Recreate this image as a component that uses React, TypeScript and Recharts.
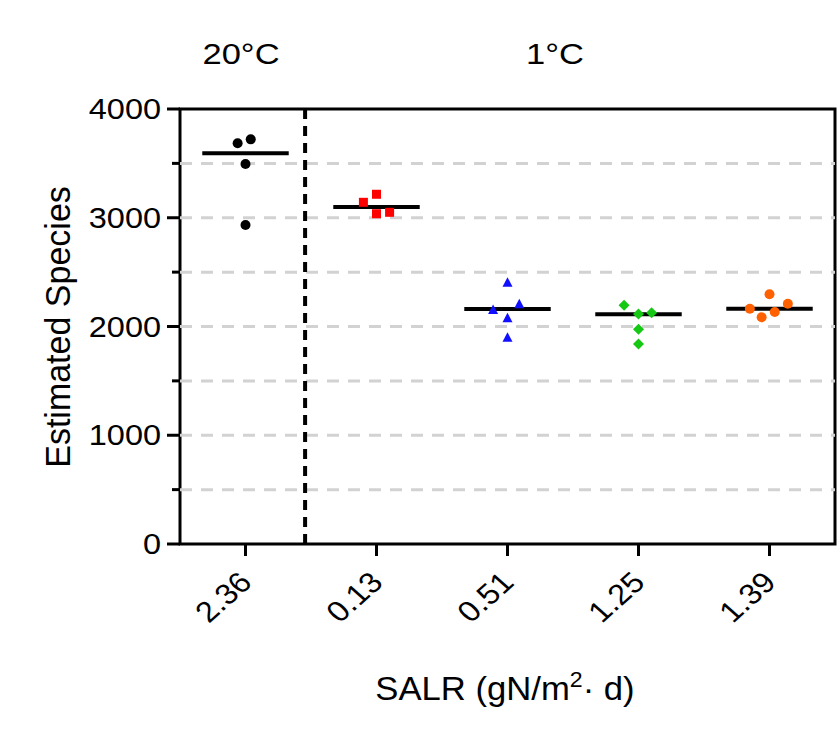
import { ReferenceArea, ReferenceLine, Scatter, ScatterChart, XAxis, YAxis } from 'recharts';

const categories = ['2.36', '0.13', '0.51', '1.25', '1.39'];
const yTicks = [0, 500, 1000, 1500, 2000, 2500, 3000, 3500, 4000];
const gridValues = [500, 1000, 1500, 2000, 2500, 3000, 3500];

// measured values per SALR group (first one at 20°C, rest at 1°C)
const warm236 = [3685, 3721, 3494, 2933];
const cold013 = [3142, 3216, 3037, 3050];
const cold051 = [2403, 2152, 2204, 2075, 1897];
const cold125 = [2195, 2115, 2127, 1974, 1839];
const cold139 = [2296, 2164, 2210, 2133, 2085];

// horizontal scatter offsets
const jit236 = [-0.06, 0.04, 0, 0];
const jit013 = [-0.1, 0, 0, 0.1];
const jit051 = [0, -0.11, 0.09, 0, 0];
const jit125 = [-0.11, 0, 0.1, 0, 0];
const jit139 = [0, -0.15, 0.14, 0.04, -0.06];

const medians = [3592, 3099, 2161, 2112, 2164];

const FONT = '"Liberation Sans", Arial, sans-serif';

const toPoints = (vals: number[], jit: number[], pos: number) =>
    vals.map((y, i) => ({ x: pos + jit[i], y }));

const dot = (color: string) => (p: any) => <circle cx={p.cx} cy={p.cy} r={5} fill={color} />;
const square = (p: any) => <rect x={p.cx - 4.5} y={p.cy - 4.5} width={9} height={9} fill="#ff0000" />;
const triangle = (p: any) => (
    <polygon points={`${p.cx},${p.cy - 5.5} ${p.cx + 5},${p.cy + 4} ${p.cx - 5},${p.cy + 4}`} fill="#1010ff" />
);
const diamond = (p: any) => (
    <polygon points={`${p.cx},${p.cy - 5.5} ${p.cx + 5.5},${p.cy} ${p.cx},${p.cy + 5.5} ${p.cx - 5.5},${p.cy}`} fill="#14c814" />
);

function YTick({ x, y, payload }: any) {
    const major = payload.value % 1000 === 0;
    return (
        <g>
            <line x1={x - (major ? 13 : 8)} x2={x} y1={y} y2={y} stroke="#000" strokeWidth={3} />
            {major && (
                <text transform={`translate(${x - 19},${y + 10}) scale(1.12,1)`} textAnchor="end" fontSize={29} fontFamily={FONT} fill="#000">
                    {payload.value}
                </text>
            )}
        </g>
    );
}

function XTick({ x, y, payload }: any) {
    return (
        <g>
            <line x1={x} x2={x} y1={y} y2={y + 12} stroke="#000" strokeWidth={3} />
            <text transform={`translate(${x + 8},${y + 40}) scale(1.12,1) rotate(-45)`} textAnchor="end" fontSize={29} fontFamily={FONT} fill="#000">
                {categories[payload.value - 1]}
            </text>
        </g>
    );
}

export default function App() {
    return (
        <div style={{ position: 'absolute', left: 0, top: 0, width: 839, height: 735, overflow: 'hidden', background: '#fff' }}>
            <ScatterChart width={839} height={735} margin={{ top: 109, right: 4, bottom: 91, left: 80 }}>
                <XAxis
                    type="number"
                    dataKey="x"
                    domain={[0.5, 5.5]}
                    ticks={[1, 2, 3, 4, 5]}
                    interval={0}
                    height={100}
                    axisLine={false}
                    tickLine={false}
                    tickSize={0}
                    tickMargin={0}
                    tick={<XTick />}
                />
                <YAxis
                    type="number"
                    dataKey="y"
                    domain={[0, 4000]}
                    ticks={yTicks}
                    interval={0}
                    width={100}
                    axisLine={false}
                    tickLine={false}
                    tickSize={0}
                    tickMargin={0}
                    tick={<YTick />}
                />
                {gridValues.map((v) => (
                    <ReferenceLine key={v} y={v} stroke="#d2d2d2" strokeWidth={3} strokeDasharray="12 9" />
                ))}
                <Scatter data={toPoints(warm236, jit236, 1)} shape={dot('#000')} isAnimationActive={false} />
                <Scatter data={toPoints(cold013, jit013, 2)} shape={square} isAnimationActive={false} />
                <Scatter data={toPoints(cold051, jit051, 3)} shape={triangle} isAnimationActive={false} />
                <Scatter data={toPoints(cold125, jit125, 4)} shape={diamond} isAnimationActive={false} />
                <Scatter data={toPoints(cold139, jit139, 5)} shape={dot('#ff6000')} isAnimationActive={false} />
                {medians.map((m, i) => (
                    <ReferenceLine
                        key={i}
                        segment={[{ x: i + 1 - 0.33, y: m }, { x: i + 1 + 0.33, y: m }]}
                        stroke="#000"
                        strokeWidth={4}
                    />
                ))}
                <ReferenceLine x={1.455} stroke="#000" strokeWidth={4} strokeDasharray="10 7" />
                <ReferenceArea x1={0.5} x2={5.5} y1={0} y2={4000} fill="none" stroke="#000" strokeWidth={3} />
                <g fontFamily={FONT} fill="#000">
                    <text transform="translate(241,63.5) scale(1.15,1)" textAnchor="middle" fontSize={30}>20°C</text>
                    <text transform="translate(555,63.5) scale(1.15,1)" textAnchor="middle" fontSize={30}>1°C</text>
                    <text transform="translate(70,327) scale(1.05,1) rotate(-90)" textAnchor="middle" fontSize={34}>Estimated Species</text>
                    <text transform="translate(505,700) scale(1.05,1)" textAnchor="middle" fontSize={33}>
                        SALR (gN/m<tspan dy={-13} fontSize={22}>2</tspan><tspan dy={13}>· d)</tspan>
                    </text>
                </g>
            </ScatterChart>
        </div>
    );
}
